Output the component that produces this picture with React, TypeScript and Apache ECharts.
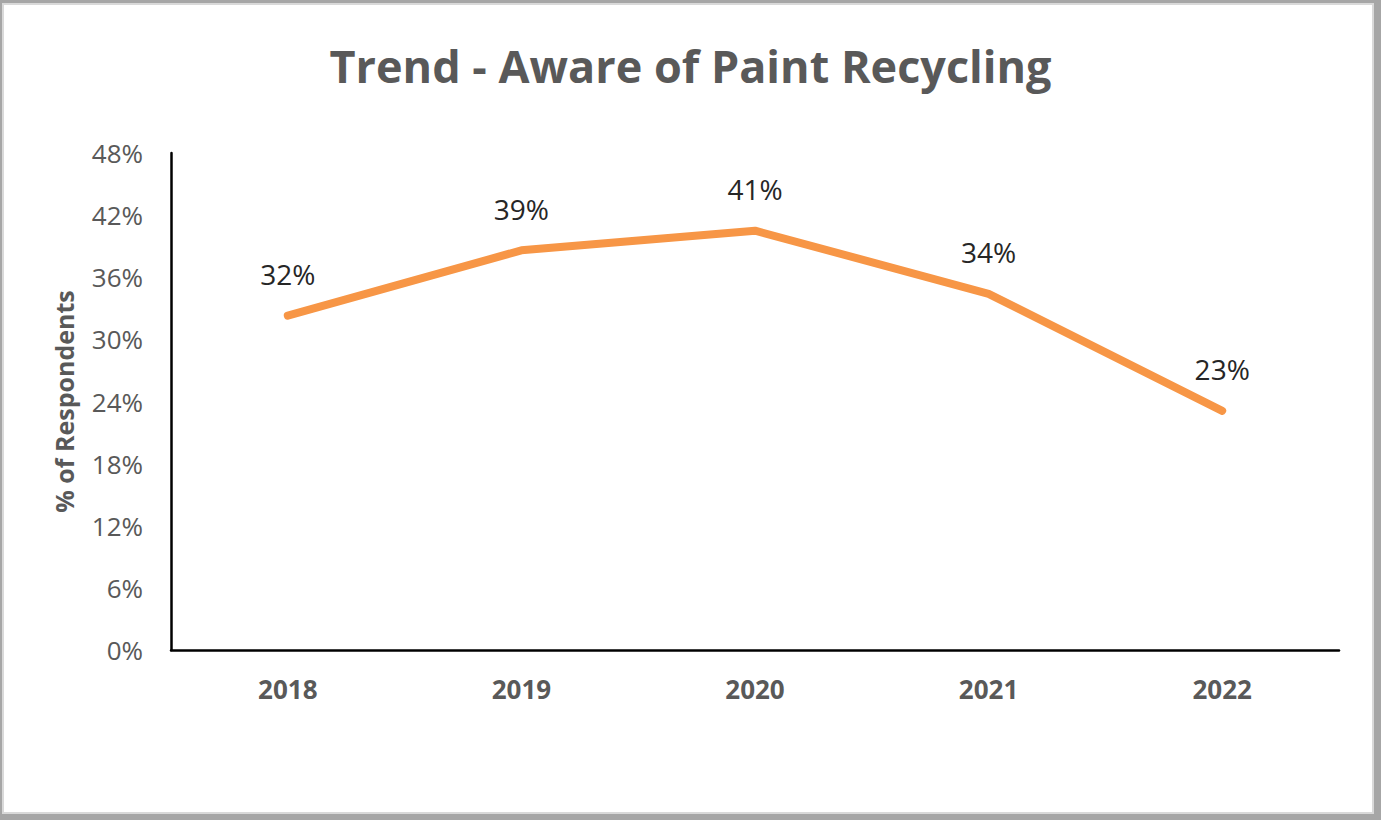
import React, { useEffect, useRef } from "react";
import * as echarts from "echarts";

const title = "Trend - Aware of Paint Recycling";
const years = ["2018", "2019", "2020", "2021", "2022"];
const awareValues = [32.3, 38.6, 40.5, 34.4, 23.1];
const labelValues = ["32%", "39%", "41%", "34%", "23%"];
const yAxisName = "% of Respondents";

const FONT = "'Open Sans', 'Noto Sans', sans-serif";

export default function App() {
  const ref = useRef<HTMLDivElement>(null);
  useEffect(() => {
    document.body.style.margin = "0";
    const chart = echarts.init(ref.current!, null, { renderer: "svg" });
    chart.setOption({
      animation: false,
      backgroundColor: "#ffffff",
      textStyle: { fontFamily: FONT },
      title: {
        text: title,
        left: "center",
        top: 38,
        textStyle: { fontFamily: FONT, fontSize: 45, fontWeight: "bold", color: "#595959" },
      },
      graphic: [
        { type: "rect", shape: { x: 0, y: 0, width: 1381, height: 4 }, style: { fill: "#a6a6a6" }, silent: true },
        { type: "rect", shape: { x: 0, y: 0, width: 3, height: 820 }, style: { fill: "#a6a6a6" }, silent: true },
        { type: "rect", shape: { x: 1373, y: 0, width: 8, height: 820 }, style: { fill: "#a6a6a6" }, silent: true },
        { type: "rect", shape: { x: 0, y: 813, width: 1381, height: 7 }, style: { fill: "#a6a6a6" }, silent: true },
        { type: "rect", shape: { x: 3, y: 4, width: 1370, height: 809 }, style: { fill: "none", stroke: "#d9d9d9", lineWidth: 2 }, silent: true },
      ],
      grid: { left: 171, right: 42, top: 153, bottom: 170, containLabel: false },
      xAxis: {
        type: "category",
        data: years,
        boundaryGap: true,
        axisLine: { show: true, lineStyle: { color: "#000000", width: 2.5 } },
        axisTick: { show: false },
        axisLabel: { color: "#595959", fontSize: 26, fontWeight: "bold", fontFamily: FONT, margin: 26 },
        splitLine: { show: false },
      },
      yAxis: {
        type: "value",
        min: 0,
        max: 48,
        interval: 6,
        name: yAxisName,
        nameLocation: "middle",
        nameGap: 95,
        nameTextStyle: { color: "#595959", fontSize: 25, fontWeight: "bold", fontFamily: FONT },
        axisLine: { show: true, lineStyle: { color: "#000000", width: 2.5 } },
        axisTick: { show: false },
        splitLine: { show: false },
        axisLabel: { color: "#595959", fontSize: 26, fontFamily: FONT, margin: 28, formatter: "{value}%" },
      },
      series: [
        {
          type: "line",
          data: awareValues,
          symbol: "circle",
          symbolSize: 1,
          itemStyle: { color: "#F79646" },
          lineStyle: { color: "#F79646", width: 8, cap: "round", join: "round" },
          label: {
            show: true,
            position: "top",
            distance: 27,
            color: "#262626",
            fontSize: 28,
            fontFamily: FONT,
            formatter: (p: any) => labelValues[p.dataIndex],
          },
        },
      ],
    });
    return () => chart.dispose();
  }, []);
  return <div ref={ref} style={{ width: 1381, height: 820 }} />;
}
